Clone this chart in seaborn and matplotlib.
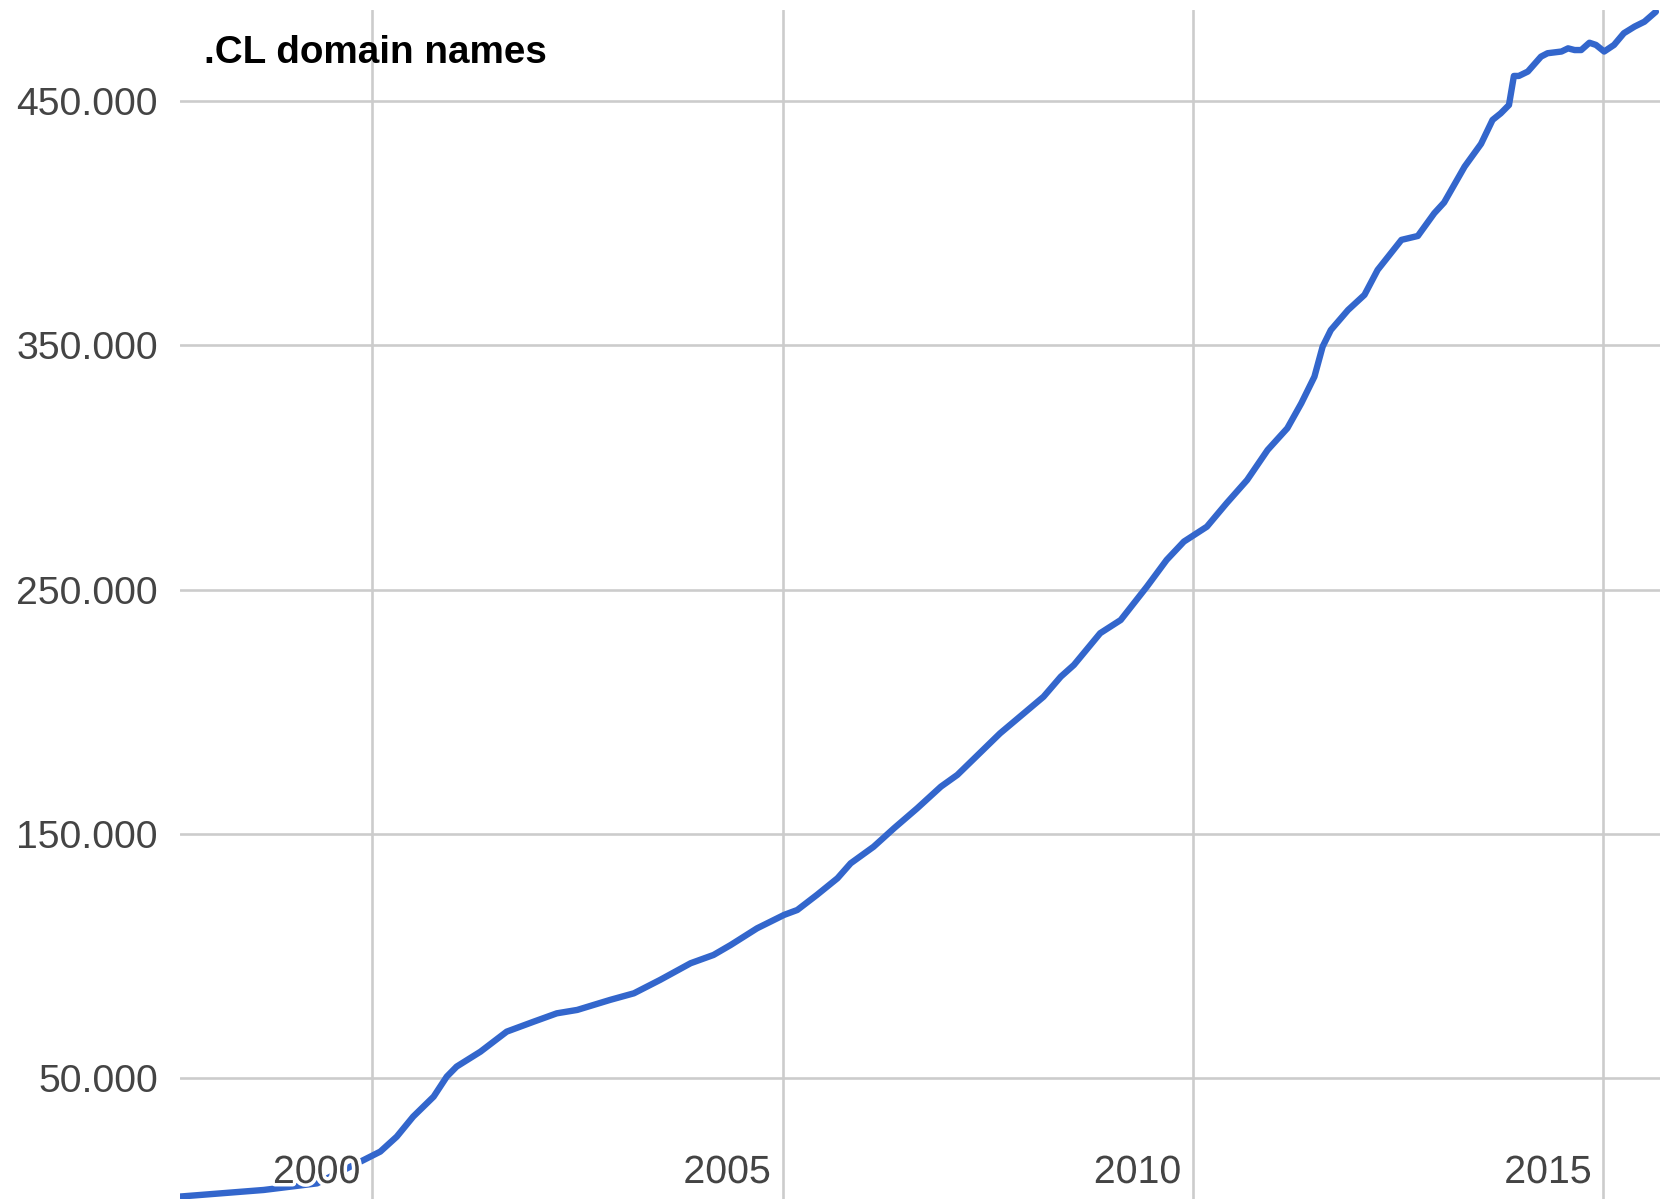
import matplotlib
matplotlib.use("Agg")
import matplotlib.pyplot as plt
import matplotlib.patheffects as pe
import pandas as pd
import seaborn as sns

# valores (año decimal, dominios .CL)
anios = [1997.66, 1998.68, 1999.33, 1999.90, 2000.10, 2000.30, 2000.50, 2000.75, 2000.91, 2001.03,
         2001.32, 2001.64, 2001.97, 2002.25, 2002.50, 2002.90, 2003.19, 2003.51, 2003.88, 2004.16,
         2004.37, 2004.69, 2005.02, 2005.18, 2005.42, 2005.67, 2005.83, 2006.11, 2006.36, 2006.64,
         2006.93, 2007.13, 2007.65, 2007.94, 2008.18, 2008.39, 2008.55, 2008.87, 2009.12, 2009.44,
         2009.68, 2009.89, 2010.17, 2010.41, 2010.66, 2010.91, 2011.15, 2011.32, 2011.48, 2011.58,
         2011.68, 2011.89, 2012.09, 2012.25, 2012.54, 2012.74, 2012.94, 2013.06, 2013.31, 2013.51,
         2013.65, 2013.75, 2013.85, 2013.91, 2013.97, 2014.08, 2014.24, 2014.32, 2014.49, 2014.57,
         2014.65, 2014.73, 2014.83, 2014.91, 2015.01, 2015.13, 2015.25, 2015.38, 2015.50, 2015.64]
dominios_miles = [1.6, 4.3, 7.0, 16.6, 20.0, 26.1, 34.3, 42.5, 50.7, 54.8,
                  60.9, 69.1, 73.2, 76.6, 78.0, 82.1, 84.8, 90.3, 97.1, 100.5,
                  104.6, 111.4, 116.9, 118.9, 125.1, 131.9, 138.0, 144.8, 152.4, 160.5,
                  169.4, 174.2, 191.2, 199.4, 206.2, 214.4, 219.2, 232.2, 237.6, 251.3,
                  262.2, 269.7, 275.8, 285.4, 294.9, 307.2, 316.1, 326.3, 337.2, 349.5,
                  356.3, 364.5, 370.7, 380.9, 393.2, 394.8, 404.1, 408.5, 423.2, 432.5,
                  442.3, 445.0, 448.4, 460.3, 460.3, 462.1, 468.2, 469.6, 470.3, 471.6,
                  470.9, 470.9, 473.9, 473.0, 470.3, 473.0, 477.8, 480.5, 482.5, 486.6]

x_ticks = [2000, 2005, 2010, 2015]
x_labels = ["2000", "2005", "2010", "2015"]
y_ticks = [50000, 150000, 250000, 350000, 450000]
y_labels = ["50.000", "150.000", "250.000", "350.000", "450.000"]
titulo = ".CL domain names"

df = pd.DataFrame({"anio": anios, "dominios": [v * 1000 for v in dominios_miles]})

sns.set_style("white")
plt.rcParams['font.family'] = ['Liberation Sans', 'DejaVu Sans']

fig = plt.figure(figsize=(16.6, 11.99), dpi=100)
ax = fig.add_axes([180 / 1660, 0, 1480 / 1660, 1 - 9.5 / 1199])

sns.lineplot(data=df, x="anio", y="dominios", ax=ax, color="#3366cc", linewidth=4.6,
             solid_joinstyle="round", solid_capstyle="round", zorder=3)

ax.set_xlim(1997.66, 2015.69)
ax.set_ylim(600, 487500)
ax.set_xticks(x_ticks)
ax.set_xticklabels([])
ax.set_yticks(y_ticks)
ax.set_yticklabels(y_labels, fontsize=28.3, color="#444444")
ax.tick_params(axis="both", length=0)
ax.tick_params(axis="y", pad=16)
ax.grid(True, color="#cccccc", linewidth=1.9)
ax.set_axisbelow(True)
ax.set_xlabel("")
ax.set_ylabel("")
for s in ax.spines.values():
    s.set_visible(False)

# etiquetas del eje x dentro del area del grafico
for xt, lab in zip(x_ticks, x_labels):
    ax.annotate(lab, xy=(xt, 0), xycoords=("data", "axes fraction"),
                xytext=(-12, 16), textcoords="offset pixels",
                ha="right", va="baseline", fontsize=28.3, color="#444444", zorder=5,
                path_effects=[pe.withStroke(linewidth=5, foreground="white")])

fig.text(204 / 1660, 1 - 53 / 1199, titulo, fontsize=27.8, fontweight="bold",
         color="black", ha="left", va="center")

plt.savefig("out.png", dpi=100)
